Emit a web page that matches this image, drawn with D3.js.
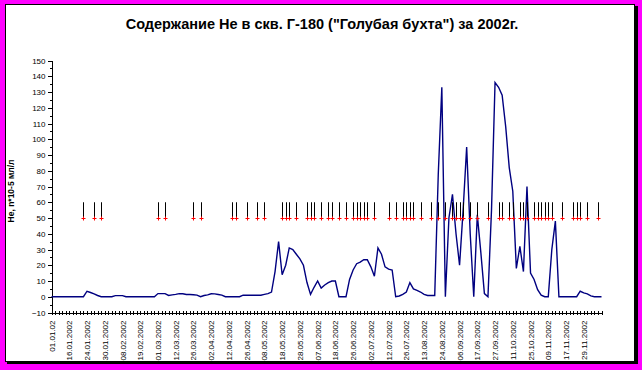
<!DOCTYPE html>
<html><head><meta charset="utf-8">
<script src="https://cdn.jsdelivr.net/npm/d3@7/dist/d3.min.js"></script>
<style>
html,body{margin:0;padding:0;background:#FF00FF;}
svg{display:block;}
text{font-family:Arial,"Liberation Sans",sans-serif;}
</style></head>
<body><svg id="c" width="642" height="370"></svg>
<script>
const titleText = 'Содержание Не в скв. Г-180 ("Голубая бухта") за 2002г.';
const yTitle = 'Не, n*10-5 мл/л';
const tickLabels = ["01.01.02","16.01.2002","24.01.2002","30.01.2002","08.02.2002","19.02.2002","01.03.2002","12.03.2002","26.03.2002","02.04.2002","12.04.2002","26.04.2002","08.05.2002","18.05.2002","28.05.2002","07.06.2002","18.06.2002","26.06.2002","02.07.2002","12.07.2002","26.07.2002","13.08.2002","24.08.2002","06.09.2002","17.09.2002","27.09.2002","11.10.2002","25.10.2002","09.11.2002","17.11.2002","29.11.2002"];
const labelEvery = 5;
const heValues = [
 0,0,0,0,0,0,0,0,0,0,
 3.5,2.7,1.8,0.8,0,0,0,0,0.7,0.7,
 0.7,0,0,0,0,0,0,0,0,0,
 2,2,2,0.8,1.2,1.5,2,1.9,1.4,1.4,
 1.3,1.0,0,0.8,1.2,1.9,1.8,1.4,1.0,0,
 0,0,0,0,1,1,1,1,1,1,
 1.5,2,3,16,35,14,20,31,30,27,
 24,20,9,1.5,6,10,5.5,7.5,9,10,
 10,0,0,0,11,17,21,22,23.5,23.5,
 19,13,31,27,19,17.5,17,0,0.5,1.5,
 3,9,5,4,3,1.5,0.8,0.8,0.8,78,
 133,0,50,65,40,20,55,95,40,0,
 52,28,2,0,55,136,133,128,108,82,
 67,18,32,16,70,15,11,4.5,1,0,
 0,30,48,0,0,0,0,0,0,3.5,
 2.5,1.8,0.5,0,0,0
];
const eventIdx = [9,12,14,30,32,40,42,51,52,55,58,60,65,66,67,69,72,73,74,76,78,79,81,83,85,86,87,88,89,91,95,97,99,100,101,102,104,107,109,111,113,114,115,116,118,120,123,126,127,129,130,132,133,134,136,137,138,139,140,141,144,147,148,149,151,154];
const eventValue = 50;
const eventErrPlus = 10;
const yTicks = d3.range(-10, 151, 10);
const yMinor = d3.range(-5, 150, 10);

const svg = d3.select('#c');
// frame
svg.append('rect').attr('x',7).attr('y',6).attr('width',631).attr('height',358).attr('fill','#000');
svg.append('rect').attr('x',5.5).attr('y',4.5).attr('width',629).attr('height',357).attr('fill','#fff').attr('stroke','#000');

const cats = d3.range(heValues.length);
const x = d3.scalePoint().domain(cats).range([51.5, 601.5]);
const y = d3.scaleLinear().domain([-10,150]).range([312.5, 60.5]);

svg.append('text').attr('x',322).attr('y',29).attr('text-anchor','middle')
  .style('font-size','14.5px').style('font-weight','bold').text(titleText);

svg.append('text').attr('transform','translate(14,191) rotate(-90)').attr('text-anchor','middle')
  .style('font-size','8.5px').style('font-weight','bold').text(yTitle);

// y axis
const ya = svg.append('g').attr('transform','translate(51.5,0)')
  .call(d3.axisLeft(y).tickValues(yTicks).tickSize(4).tickPadding(2).tickFormat(d3.format('d')));
ya.selectAll('text').style('font-size','8px').style('font-family','Arial, "Liberation Sans", sans-serif').attr('fill','#000');
svg.append('g').attr('transform','translate(51.5,0)')
  .call(d3.axisLeft(y).tickValues(yMinor).tickSize(2).tickFormat(''))
  .select('.domain').remove();

// x axis
const xa = svg.append('g').attr('transform','translate(0,'+y(-10)+')')
  .call(d3.axisBottom(x).tickValues(cats).tickSize(2).tickSizeOuter(0).tickFormat(''));
xa.selectAll('.tick line').attr('y1',-2).attr('y2',2);
const xl = svg.append('g').attr('transform','translate(0,'+y(-10)+')')
  .call(d3.axisBottom(x).tickValues(cats.filter(i=>i%labelEvery===0)).tickSize(0).tickFormat(i=>tickLabels[i/labelEvery]));
xl.select('.domain').remove();
xl.selectAll('text').attr('transform','rotate(-90)').attr('text-anchor','end')
  .attr('x',-8).attr('y',0).attr('dy','0.32em')
  .style('font-size','8px').style('font-family','Arial, "Liberation Sans", sans-serif').attr('fill','#000');
svg.selectAll('.domain, .tick line').attr('stroke','#000').attr('shape-rendering','crispEdges');

// line
svg.append('path').datum(heValues)
  .attr('d', d3.line().x((d,i)=>x(i)).y(d=>y(d)))
  .attr('fill','none').attr('stroke','#000080').attr('stroke-width',1.4);

// events: error bars + markers
const ev = svg.append('g');
ev.selectAll('line').data(eventIdx).join('line')
  .attr('x1',d=>Math.round(x(d))+0.5).attr('x2',d=>Math.round(x(d))+0.5)
  .attr('y1',y(eventValue)).attr('y2',y(eventValue+eventErrPlus))
  .attr('stroke','#000').attr('stroke-width',1);
ev.selectAll('path').data(eventIdx).join('path')
  .attr('transform',d=>'translate('+(Math.round(x(d))+0.5)+','+(Math.round(y(eventValue))+0.5)+')')
  .attr('d','M-2,0H2M0,-2V2').attr('stroke','#FF0000').attr('stroke-width',1);
</script></body></html>
